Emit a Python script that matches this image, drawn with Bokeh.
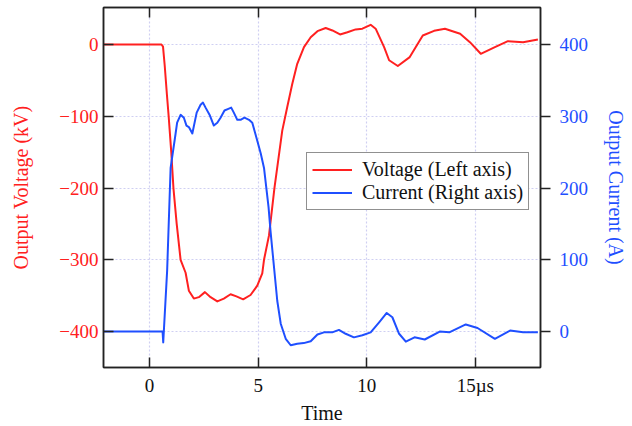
from bokeh.plotting import figure
from bokeh.models import Range1d, LinearAxis, FixedTicker, Legend, LegendItem
from bokeh.embed import file_html
from bokeh.resources import INLINE

# Voltage (kV) vs time (µs)
v_time = [-2.1, 0.55, 0.62, 0.7, 0.8, 0.88, 1.0, 1.1, 1.25, 1.43,
          1.66, 1.81, 2.04, 2.27, 2.55, 2.81, 3.12, 3.42, 3.73, 4.0,
          4.31, 4.65, 4.96, 5.19, 5.27, 5.5, 5.75, 6.11, 6.34, 6.57,
          6.8, 7.11, 7.42, 7.73, 8.11, 8.42, 8.77, 9.11, 9.49, 9.8,
          10.18, 10.41, 10.8, 11.03, 11.43, 11.98, 12.58, 13.1, 13.6, 14.3,
          14.75, 15.25, 15.9, 16.5, 17.2, 17.88]
voltage = [0, 0, -3, -30, -70, -100, -150, -200, -250, -300,
           -318, -343, -354, -352, -345, -352, -358, -354, -348, -351,
           -355, -349, -336, -319, -300, -266, -200, -120, -87, -55,
           -27, -3.7, 10, 18.5, 23, 19.5, 14, 17, 21, 22,
           27.4, 22, -3.7, -22, -30, -17.6, 12.5, 19, 21.8, 14.9,
           3.2, -13, -3.7, 4.6, 3.2, 7]

# Current (A) vs time (µs)
c_time = [-2.1, 0.6, 0.63, 0.81, 0.97, 1.2, 1.27, 1.43, 1.58, 1.7,
          1.81, 1.97, 2.17, 2.35, 2.46, 2.58, 2.78, 2.96, 3.12, 3.27,
          3.45, 3.6, 3.76, 3.88, 4.04, 4.19, 4.37, 4.58, 4.73, 4.96,
          5.12, 5.27, 5.48, 5.57, 5.88, 6.04, 6.27, 6.5, 6.8, 7.1,
          7.42, 7.73, 8.03, 8.41, 8.72, 9.03, 9.41, 9.8, 10.18, 10.57,
          10.92, 11.18, 11.49, 11.8, 12.2, 12.67, 13.36, 13.8, 14.56, 15.1,
          15.9, 16.6, 17.2, 17.88]
current = [0, 0, -15, 85, 228, 276, 291, 302, 298, 287,
           285, 276, 305, 316, 319, 312, 301, 287, 291, 298,
           308, 310, 312, 305, 295, 295, 298, 295, 291, 266,
           248, 228, 173, 140, 43, 11, -10, -19, -17, -16,
           -13.5, -4, -1, -1, 2.4, -3, -8, -5, -1, 13,
           26, 20, -3, -14, -8, -11, 0, -1, 10, 5,
           -10, 1.4, -1, -1]

x_ticks = [0, 5, 10, 15]
v_ticks = [0, -100, -200, -300, -400]
c_ticks = [0, 100, 200, 300, 400]

RED = "#ff2020"
BLUE = "#1f4fff"
FONT = "Liberation Serif"
GRID = "#cfcff2"
AX = "#222222"

p = figure(width=632, height=426, output_backend="svg", toolbar_location=None,
           x_range=Range1d(-2.12, 18.0), y_range=Range1d(-450, 51.5),
           min_border_left=103, min_border_right=92, min_border_top=7, min_border_bottom=59,
           background_fill_color="white", border_fill_color="white")
p.extra_y_ranges = {"cur": Range1d(-50, 451.5)}
p.outline_line_color = AX
p.outline_line_width = 1.5

# left axis
ya = p.yaxis[0]
ya.ticker = FixedTicker(ticks=v_ticks)
ya.axis_label = "Output Voltage (kV)"
ya.axis_label_text_color = RED
ya.axis_label_text_font = FONT
ya.axis_label_text_font_size = "20px"
ya.axis_label_text_font_style = "normal"
ya.axis_label_standoff = 24
ya.major_label_text_color = RED
ya.major_label_text_font = FONT
ya.major_label_text_font_size = "19px"
ya.major_label_standoff = 5
ya.major_tick_in = 10
ya.major_tick_out = 0
ya.minor_tick_line_color = None
ya.axis_line_color = AX
ya.axis_line_width = 1.5
ya.major_tick_line_color = AX
ya.major_tick_line_width = 1.5

# bottom axis
xa = p.xaxis[0]
xa.ticker = FixedTicker(ticks=x_ticks)
xa.major_label_overrides = {15: "15µs"}
xa.axis_label = "Time"
xa.axis_label_text_font = FONT
xa.axis_label_text_font_size = "20px"
xa.axis_label_text_font_style = "normal"
xa.axis_label_text_color = "#111111"
xa.axis_label_standoff = 3
xa.major_label_text_font = FONT
xa.major_label_text_font_size = "19px"
xa.major_label_text_color = "#111111"
xa.major_label_standoff = 7
xa.major_tick_in = 10
xa.major_tick_out = 0
xa.minor_tick_line_color = None
xa.axis_line_color = AX
xa.axis_line_width = 1.5
xa.major_tick_line_color = AX
xa.major_tick_line_width = 1.5

# top axis (ticks only, no labels)
ta = LinearAxis(ticker=FixedTicker(ticks=x_ticks), major_label_text_font_size="0px",
                major_label_text_color=None, major_label_standoff=0,
                major_tick_in=10, major_tick_out=0,
                minor_tick_line_color=None, axis_line_color=AX, axis_line_width=1.5,
                major_tick_line_color=AX, major_tick_line_width=1.5)
p.add_layout(ta, "above")

# right axis
ra = LinearAxis(y_range_name="cur", ticker=FixedTicker(ticks=c_ticks),
                axis_label="Output Current (A)", axis_label_text_color=BLUE,
                axis_label_text_font=FONT, axis_label_text_font_size="20px",
                axis_label_text_font_style="normal", axis_label_standoff=14,
                major_label_text_color=BLUE, major_label_text_font=FONT,
                major_label_text_font_size="19px", major_label_standoff=9,
                major_tick_in=0, major_tick_out=10, minor_tick_line_color=None,
                axis_line_color=AX, axis_line_width=1.5,
                major_tick_line_color=AX, major_tick_line_width=1.5)
p.add_layout(ra, "right")

p.xgrid.ticker = FixedTicker(ticks=x_ticks)
p.ygrid.ticker = FixedTicker(ticks=v_ticks)
for g in (p.xgrid[0], p.ygrid[0]):
    g.grid_line_color = GRID
    g.grid_line_dash = "2 2"
    g.grid_line_width = 1.2

r_v = p.line(v_time, voltage, line_color=RED, line_width=2, line_join="round")
r_c = p.line(c_time, current, line_color=BLUE, line_width=2, line_join="round",
             y_range_name="cur")

legend = Legend(items=[LegendItem(label="Voltage (Left axis)", renderers=[r_v]),
                       LegendItem(label="Current (Right axis)", renderers=[r_c])],
                location=(203, 157), label_text_font=FONT, label_text_font_size="20px",
                label_text_color="#111111", glyph_width=40, glyph_height=23,
                label_height=23, label_standoff=10, spacing=0, padding=5, margin=0,
                border_line_color=AX, border_line_width=1.2,
                background_fill_color="white", background_fill_alpha=1)
p.add_layout(legend, "center")

open("out.html", "w").write(file_html(p, INLINE))
